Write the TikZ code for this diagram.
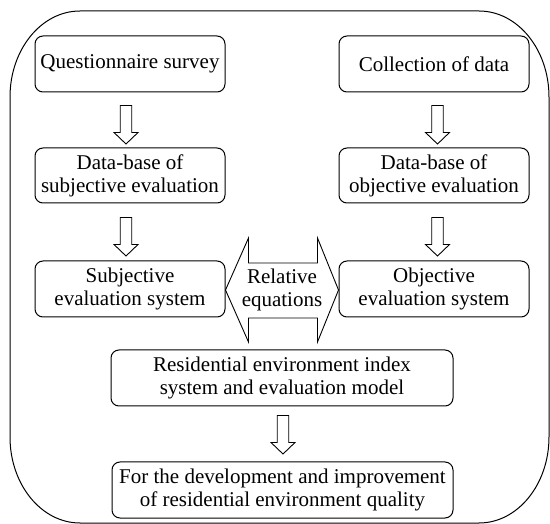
\documentclass[tikz,border=0pt]{standalone}
\usepackage{fontspec}
\setmainfont{Liberation Serif}
\newfontfamily\boxserif{Liberation Serif}
\usetikzlibrary{calc}
\begin{document}
\begin{tikzpicture}[x=1pt,y=1pt,
  box/.style={draw,line width=1pt,rounded corners=8pt,minimum height=56pt,inner sep=0pt,align=center,font=\boxserif\fontsize{21}{23}\selectfont},
  downarr/.pic={\draw[line width=0.9pt,line join=miter] (-5.75,0) -- (-5.75,-27) -- (-12,-27) -- (0,-38.5) -- (12,-27) -- (5.75,-27) -- (5.75,0) -- cycle;},
  lbl/.style={align=center,font=\boxserif\fontsize{21}{23}\selectfont,inner sep=0pt}]
\useasboundingbox (0,0) rectangle (550,-524);
% outer frame
\draw[line width=1pt] (80,-11) -- (479,-11)
  arc[start angle=90,end angle=0,x radius=70,y radius=86] -- (549,-437)
  arc[start angle=0,end angle=-90,x radius=70,y radius=86] -- (80,-523)
  arc[start angle=270,end angle=180,x radius=70,y radius=86] -- (10,-97)
  arc[start angle=180,end angle=90,x radius=70,y radius=86] -- cycle;
% boxes
\node[box,minimum width=190pt] (q) at (130,-64) {Questionnaire survey};
\node[box,minimum width=190pt] (c) at (434,-64) {Collection of data};
\node[box,minimum width=190pt,minimum height=55pt] (dbs) at (130,-175.5) {Data-base of\\subjective evaluation};
\node[box,minimum width=190pt,minimum height=55pt] (dbo) at (434,-175.5) {Data-base of\\objective evaluation};
\node[box,minimum width=190pt] (sub) at (130,-289) {Subjective\\evaluation system};
\node[box,minimum width=190pt] (obj) at (434,-289) {Objective\\evaluation system};
\node[box,minimum width=342pt] (res) at (282,-378) {Residential environment index\\system and evaluation model};
\node[box,minimum width=341pt] (fin) at (282.5,-490) {For the development and improvement\\of residential environment quality};
% down arrows
\pic at ($(q.south)+(-4,-13)$) {downarr};
\pic at ($(c.south)+(3.5,-13)$) {downarr};
\pic at ($(dbs.south)+(-4,-14)$) {downarr};
\pic at ($(dbo.south)+(3.5,-14)$) {downarr};
\pic at ($(res.south)+(1,-9)$) {downarr};
% double arrow
\node[lbl] (rel) at (282,-290) {Relative\\equations};
\draw[line width=0.9pt,line join=miter] (sub.east |- rel) -- ++(23,52) -- ++(0,-25) -- ++(69,0) -- ++(0,25)
  -- (obj.west |- rel) -- ++(-21,-52) -- ++(0,24) -- ++(-69,0) -- ++(0,-24) -- cycle;
\end{tikzpicture}
\end{document}
